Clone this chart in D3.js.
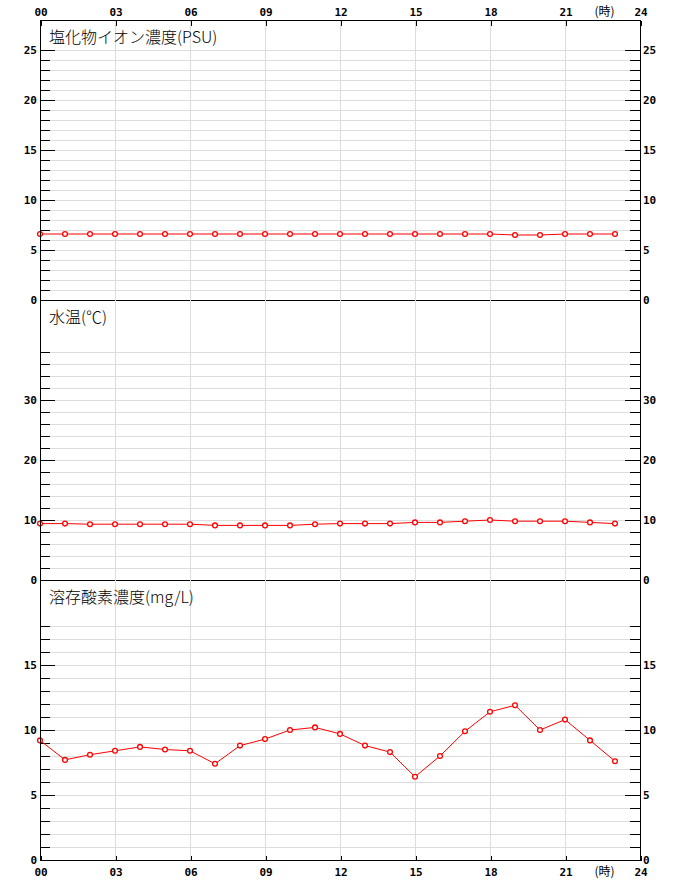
<!DOCTYPE html>
<html><head><meta charset="utf-8">
<script src="https://cdn.jsdelivr.net/npm/d3@7"></script>
<style>
body{margin:0;background:#fff;}
svg{display:block;}
.lab{font-family:"DejaVu Sans Mono",monospace;font-weight:bold;font-size:11px;fill:#000;}
.ttl{font-family:"Noto Sans CJK JP",sans-serif;font-weight:300;font-size:16px;fill:#000;}
.unit{font-family:"Noto Sans CJK JP",sans-serif;font-size:12px;fill:#000;}
</style></head>
<body>
<script>
const hours = d3.range(0,24);
const hourTicks = [0,3,6,9,12,15,18,21,24];
const chloride = [6.6,6.6,6.6,6.6,6.6,6.6,6.6,6.6,6.6,6.6,6.6,6.6,6.6,6.6,6.6,6.6,6.6,6.6,6.6,6.5,6.5,6.6,6.6,6.6];
const waterTemp = [9.4,9.4,9.3,9.3,9.3,9.3,9.3,9.1,9.1,9.1,9.1,9.3,9.4,9.4,9.4,9.6,9.6,9.8,10.0,9.8,9.8,9.8,9.6,9.4];
const dissolvedO2 = [9.2,7.7,8.1,8.4,8.7,8.5,8.4,7.4,8.8,9.3,10.0,10.2,9.7,8.8,8.3,6.4,8.0,9.9,11.4,11.9,10.0,10.8,9.2,7.6];

const panels = [
  {title:"塩化物イオン濃度(PSU)", data:chloride, max:28, majorTicks:[0,5,10,15,20,25], minorTicks:d3.range(1,26)},
  {title:"水温(℃)", data:waterTemp, max:280/6, majorTicks:[0,10,20,30], minorTicks:d3.range(2,39,2)},
  {title:"溶存酸素濃度(mg/L)", data:dissolvedO2, max:280/13, majorTicks:[0,5,10,15], minorTicks:d3.range(1,19)}
];

const W=680,H=880,L=40,R=640,T=20,PH=280;
const svg=d3.select("body").append("svg").attr("width",W).attr("height",H);
const x=d3.scaleLinear().domain([0,24]).range([L,R]);

panels.forEach((p,i)=>{
  const top=T+i*PH, bot=top+PH;
  const y=d3.scaleLinear().domain([0,p.max]).range([bot,top]);
  const g=svg.append("g");
  g.selectAll("line.hg").data(p.minorTicks.filter(v=>v>0)).enter().append("line")
    .attr("x1",L).attr("x2",R).attr("y1",d=>Math.round(y(d))+0.5).attr("y2",d=>Math.round(y(d))+0.5)
    .attr("stroke","#dddddd").attr("stroke-width",1);
  g.selectAll("line.vg").data(hourTicks.filter(h=>h>0&&h<24)).enter().append("line")
    .attr("y1",top).attr("y2",bot).attr("x1",d=>Math.round(x(d))+0.5).attr("x2",d=>Math.round(x(d))+0.5)
    .attr("stroke","#dddddd").attr("stroke-width",1);
  const mk=(axisFn,ticks,size,labels,tx)=>{
    const a=axisFn(y).tickValues(ticks).tickSize(size).tickPadding(labels?3:0)
      .tickFormat(labels?d3.format("d"):"");
    const ag=svg.append("g").attr("transform",`translate(${tx+0.5},0.5)`).call(a);
    ag.select(".domain").remove();
    ag.selectAll("line").attr("stroke","#000").attr("shape-rendering","crispEdges");
    ag.selectAll("text").attr("class","lab").attr("font-family",null).attr("font-size",null);
    ag.selectAll(".tick").attr("transform",d=>`translate(0,${Math.round(y(d))})`);
  };
  mk(d3.axisLeft,p.minorTicks,-10,false,L-0.5);
  mk(d3.axisLeft,p.majorTicks,-15,true,L-0.5);
  mk(d3.axisRight,p.minorTicks,-10,false,R-0.5);
  mk(d3.axisRight,p.majorTicks,-15,true,R-0.5);
  svg.append("text").attr("class","ttl").attr("x",49).attr("y",top+23).text(p.title);
  const line=d3.line().x((d,j)=>x(hours[j])).y(d=>y(d));
  svg.append("path").datum(p.data).attr("d",line).attr("fill","none").attr("stroke","#ff0000").attr("stroke-width",1);
  svg.selectAll(null).data(p.data).enter().append("circle")
    .attr("cx",(d,j)=>x(hours[j])).attr("cy",d=>y(d)).attr("r",2.4)
    .attr("fill","#fff").attr("stroke","#ff0000").attr("stroke-width",1.3);
  svg.append("line").attr("x1",L).attr("x2",R+1).attr("y1",bot+0.5).attr("y2",bot+0.5).attr("stroke","#000");
});

svg.append("line").attr("x1",L).attr("x2",R+1).attr("y1",T+0.5).attr("y2",T+0.5).attr("stroke","#000");
svg.append("line").attr("x1",L+0.5).attr("x2",L+0.5).attr("y1",T).attr("y2",T+3*PH+1).attr("stroke","#000");
svg.append("line").attr("x1",R+0.5).attr("x2",R+0.5).attr("y1",T).attr("y2",T+3*PH+1).attr("stroke","#000");

const fmt=d3.format("02d");
const topAx=svg.append("g").attr("transform",`translate(0.5,${T+0.5})`)
  .call(d3.axisTop(x).tickValues(hourTicks).tickSize(-5).tickPadding(4).tickFormat(fmt));
const botAx=svg.append("g").attr("transform",`translate(0.5,${T+3*PH+0.5})`)
  .call(d3.axisBottom(x).tickValues(hourTicks).tickSize(-5).tickPadding(4).tickFormat(fmt));
[topAx,botAx].forEach(a=>{
  a.select(".domain").remove();
  a.selectAll("line").attr("stroke","#000").attr("shape-rendering","crispEdges");
  a.selectAll("text").attr("class","lab").attr("font-family",null).attr("font-size",null);
});
topAx.selectAll("text").attr("y",-4.5).attr("dy",0);
botAx.selectAll("text").attr("y",15.5).attr("dy",0);
const unit="(時)";
[16,876].forEach(yy=>{
  svg.append("text").attr("class","unit")
    .attr("x",x(22.5)+2).attr("y",yy).attr("text-anchor","middle").text(unit);
});
</script>
</body></html>
